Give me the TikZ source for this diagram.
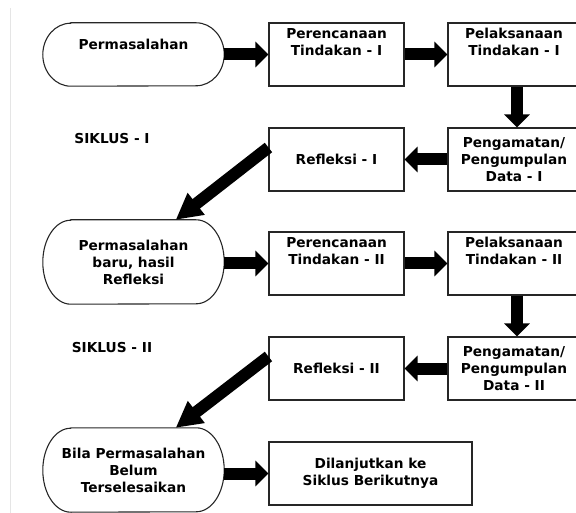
\documentclass[tikz,border=0pt]{standalone}
\usepackage{fontspec}
\setmainfont{DejaVu Sans}
\usetikzlibrary{arrows.meta}
\newcommand{\uptext}[2]{\parbox[c][#1][t]{126pt}{\centering #2}}
% outline of an oval node with elliptic ends
\newcommand{\ovalline}[2]{\draw[line, rounded corners=0pt] ([xshift=28pt]#1.north west)--([xshift=-28pt]#1.north east)
	arc[start angle=90,end angle=-90,x radius=28pt,y radius=#2]--([xshift=28pt]#1.south west)
	arc[start angle=270,end angle=90,x radius=28pt,y radius=#2]--cycle;}
\tikzset{
  line/.style={draw=black!85, line width=1.1pt},
  box/.style={line, minimum width=135pt, minimum height=63pt, inner sep=0pt, align=center},
  oval/.style={minimum width=181pt, minimum height=63pt, inner sep=0pt, align=center},
  fat/.style={line width=12pt, -{Triangle[length=13pt,width=25pt]}},
  fatdiag/.style={line width=12pt, -{Triangle[length=26pt,width=26pt]}}
}

\begin{document}
\begin{tikzpicture}[x=1pt,y=-1pt,every node/.style={font=\bfseries\fontsize{13.7}{17}\selectfont}]
		\useasboundingbox (0,0) rectangle (576,513);
		% margin line
		\draw[gray!20,line width=1pt] (10,8)--(10,513);
		% problems
		\node[oval] (ov1) at (133.5,54.5) {\uptext{30pt}{Permasalahan}};
		\node[oval,minimum height=84pt] (ov2) at (133.5,262) {Permasalahan\\baru, hasil\\Refleksi};
		\node[oval,minimum height=84pt] (ov3) at (133.5,470) {Bila Permasalahan\\Belum\\Terselesaikan};
		\ovalline{ov1}{31.5pt}
		\ovalline{ov2}{42pt}
		\ovalline{ov3}{42pt}
		% the two cycles
		\foreach \c/\n/\r/\dy in {1/2/I/0,2/3/II/209}
		{
			\node[box] (ren\c) at (336.5,54.5+\dy) {\uptext{52pt}{Perencanaan\\Tindakan - \r}};
			\node[box,minimum width=132pt] (pel\c) at (514,54.5+\dy) {\uptext{52pt}{Pelaksanaan\\Tindakan - \r}};
			\node[box,minimum width=132pt] (pg\c) at (514,159.5+\dy) {Pengamatan/\\Pengumpulan\\Data - \r};
			\node[box] (ref\c) at (336.5,159.5+\dy) {Refleksi - \r};
			\node (siklus\c) at (112,139+\dy) {SIKLUS - \r};
			\draw[fat] (ov\c.east |- ren\c.west)--(ren\c.west);
			\draw[fat] (ren\c.east)--(pel\c.west);
			\draw[fat] ([xshift=3pt]pel\c.south)--([xshift=3pt]pg\c.north);
			\draw[fat] (pg\c.west)--(ref\c.east);
			\draw[fatdiag] (ref\c.170)--(ov\n.45);
		}
		% next cycle
		\node[box,minimum width=203pt] (lanjut) at (370.5,473.5) {Dilanjutkan ke\\Siklus Berikutnya};
		\draw[fat] (ov3.east |- lanjut.west)--(lanjut.west);
	\end{tikzpicture}
\end{document}
